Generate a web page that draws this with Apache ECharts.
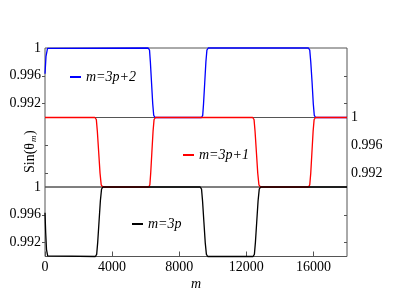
<!DOCTYPE html>
<html><head><meta charset="utf-8">
<script src="https://cdn.jsdelivr.net/npm/echarts@6/dist/echarts.min.js"></script>
<style>html,body{margin:0;padding:0;background:#fff}#c{width:415px;height:294px}</style>
</head><body><div id="c"></div>
<script>
// m = 3p+2 (top panel, blue)
const blueM = [0, 60, 150, 250, 6150, 6230, 6280, 6350, 6420, 6480, 6560, 9330, 9400, 9450, 9520, 9590, 9650, 9730, 15700, 15780, 15840, 15920, 15990, 16050, 16130, 18000];
const blueV = [0.9963, 0.9988, 0.99995, 1, 1, 0.9997, 0.998, 0.995, 0.992, 0.9903, 0.99, 0.99, 0.9903, 0.992, 0.995, 0.998, 0.9997, 1, 1, 0.9997, 0.998, 0.995, 0.992, 0.9903, 0.99, 0.99];
// m = 3p+1 (middle panel, red)
const redM = [0, 2980, 3060, 3120, 3200, 3280, 3350, 3440, 6180, 6250, 6300, 6370, 6440, 6500, 6580, 12380, 12460, 12520, 12600, 12680, 12750, 12840, 15700, 15780, 15840, 15910, 15980, 16040, 16120, 18000];
const redV = [1, 1, 0.9997, 0.998, 0.995, 0.992, 0.9903, 0.99, 0.99, 0.9903, 0.992, 0.995, 0.998, 0.9997, 1, 1, 0.9997, 0.998, 0.995, 0.992, 0.9903, 0.99, 0.99, 0.9903, 0.992, 0.995, 0.998, 0.9997, 1, 1];
// m = 3p (bottom panel, black)
const blackM = [0, 40, 90, 160, 250, 3000, 3080, 3140, 3220, 3300, 3370, 3450, 9250, 9330, 9390, 9470, 9550, 9620, 9700, 12400, 12480, 12540, 12620, 12700, 12770, 12850, 18000];
const blackV = [0.9963, 0.9935, 0.991, 0.9901, 0.99, 0.99, 0.9903, 0.992, 0.995, 0.998, 0.9997, 1, 1, 0.9997, 0.998, 0.995, 0.992, 0.9903, 0.99, 0.99, 0.9903, 0.992, 0.995, 0.998, 0.9997, 1, 1];

const seriesNames = ['m=3p+2', 'm=3p+1', 'm=3p'];
const xTicks = [0, 4000, 8000, 12000, 16000];
const yLabels = [0.992, 0.996, 1];
const yTicks = [0.992, 0.996];

const pair = (ms, vs) => ms.map((m, i) => [m, vs[i]]);
const FONT = 'Liberation Serif';
const frame = '#555';

function yAx(gi, pos, labeled) {
  return {
    type: 'value', gridIndex: gi, position: pos, min: 0.99, max: 1,
    axisLine: { show: false },
    splitLine: { show: false },
    axisTick: { show: true, inside: !labeled, length: 3, customValues: yTicks, lineStyle: { color: frame } },
    axisLabel: { show: labeled, customValues: yLabels, margin: 4, color: '#000', fontFamily: FONT, fontSize: 14,
      formatter: v => (Math.abs(v - 1) < 1e-9 ? '1' : v.toFixed(3)) }
  };
}
function xAx(gi, shown) {
  return {
    type: 'value', gridIndex: gi, min: 0, max: 18000,
    axisLine: { show: false }, splitLine: { show: false },
    axisTick: { show: shown, inside: true, length: 5, customValues: xTicks, lineStyle: { color: frame } },
    axisLabel: { show: shown, margin: 4, color: '#000', fontFamily: FONT, fontSize: 14,
      customValues: xTicks, formatter: v => String(Math.round(v)) },
    name: shown ? 'm' : '', nameLocation: 'middle', nameGap: 21,
    nameTextStyle: { fontFamily: FONT, fontStyle: 'italic', fontSize: 14, color: '#000' }
  };
}
const gridBase = { left: 45, right: 68, height: 69.5, show: true, borderColor: frame, borderWidth: 1, backgroundColor: 'transparent' };
const lineS = (name, data, gi, color) => ({
  name, type: 'line', xAxisIndex: gi, yAxisIndex: gi * 2, data, showSymbol: false, symbol: 'none',
  clip: false, smooth: false, lineStyle: { color, width: 1.3 }, itemStyle: { color }
});
const legendBase = (name, left, top) => ({
  data: [name], left, top, padding: 0, itemWidth: 11, itemHeight: 2, icon: 'rect',
  textStyle: { fontFamily: FONT, fontStyle: 'italic', fontSize: 14, color: '#000' }
});

const chart = echarts.init(document.getElementById('c'));
chart.setOption({
  animation: false,
  grid: [
    Object.assign({ top: 48 }, gridBase),
    Object.assign({ top: 117.5 }, gridBase),
    Object.assign({ top: 187 }, gridBase)
  ],
  xAxis: [xAx(0, false), xAx(1, false), xAx(2, true)],
  yAxis: [
    yAx(0, 'left', true), yAx(0, 'right', false),
    yAx(1, 'right', true), yAx(1, 'left', false),
    yAx(2, 'left', true), yAx(2, 'right', false)
  ],
  legend: [
    legendBase(seriesNames[0], 70, 70),
    legendBase(seriesNames[1], 183, 148),
    legendBase(seriesNames[2], 132, 217)
  ],
  series: [
    lineS(seriesNames[0], pair(blueM, blueV), 0, '#0000ff'),
    lineS(seriesNames[1], pair(redM, redV), 1, '#ff0000'),
    lineS(seriesNames[2], pair(blackM, blackV), 2, '#000000')
  ],
  graphic: [{
    type: 'group', x: 30, y: 150, rotation: Math.PI / 2,
    children: [
      { type: 'text', x: -23, y: 0, style: { text: 'Sin(θ', fontFamily: FONT, fontSize: 14, fill: '#000', align: 'left', verticalAlign: 'middle' } },
      { type: 'text', x: 8, y: 4, style: { text: 'm', fontFamily: FONT, fontSize: 9, fontStyle: 'italic', fill: '#000', align: 'left', verticalAlign: 'middle' } },
      { type: 'text', x: 15, y: 0, style: { text: ')', fontFamily: FONT, fontSize: 14, fill: '#000', align: 'left', verticalAlign: 'middle' } }
    ]
  }]
});
</script></body></html>
